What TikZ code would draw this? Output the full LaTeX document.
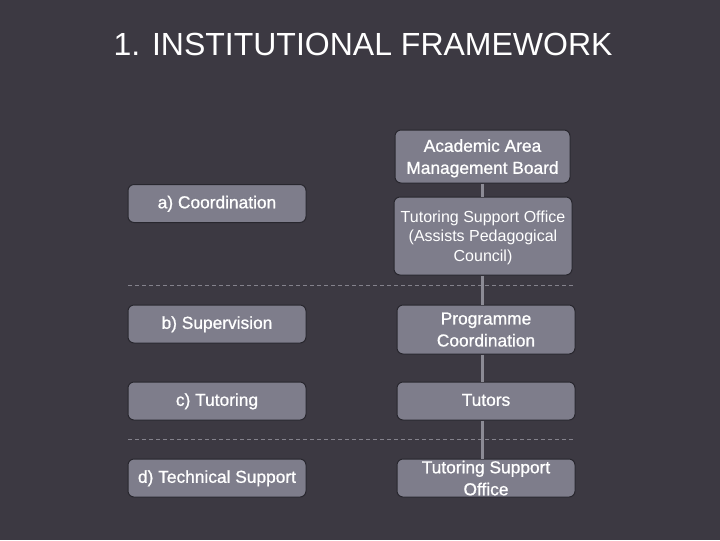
\documentclass[tikz,border=0pt]{standalone}
\usepackage{fontspec}
\setmainfont{Liberation Sans}
\newfontfamily\heavyfont[FakeBold=0.9]{Liberation Sans}

\definecolor{slide}{RGB}{60,57,66}
\definecolor{boxfill}{RGB}{126,125,139}
\definecolor{boxline}{RGB}{40,39,46}
\definecolor{linkgray}{RGB}{140,139,149}
\definecolor{sepgray}{RGB}{132,130,140}

\tikzset{every picture/.style={line width=0.75pt}}
\tikzset{
  boxnode/.style={draw=boxline, fill=boxfill, rounded corners=4.5pt, text=white,
    align=center, minimum width=133.5pt, minimum height=28.5pt, inner sep=2pt,
    text depth=0pt, font=\heavyfont\fontsize{13}{16.5}\selectfont},
  oneline/.style={boxnode, text height=0.72em},
  smallbox/.style={boxnode, font=\fontsize{12}{14.6}\selectfont},
  link/.style={draw=linkgray, line width=2.3pt},
  sepline/.style={draw=sepgray, line width=0.5pt, dash pattern=on 3pt off 2.25pt}
}

\begin{document}
\begin{tikzpicture}[x=0.75pt,y=0.75pt,yscale=-1,xscale=1]
	\useasboundingbox (0,0) rectangle (720,540);
	%Background
	\fill[slide] (0,0) rectangle (720,540);

	%Title
	\node[text=white, font=\fontsize{24}{28}\selectfont] (title) at (363,44) {1. INSTITUTIONAL FRAMEWORK};

	%Separators
	\draw[sepline] (128,285) -- (575,285);
	\draw[sepline] (128,439) -- (573,439);

	%Left column
	\node[oneline] (coord) at (217,203.5) {a) Coordination};
	\node[oneline] (super) at (217,324) {b) Supervision};
	\node[oneline] (tutor) at (217,401) {c) Tutoring};
	\node[oneline] (tech) at (217,478) {d) Technical Support};

	%Right column
	\node[boxnode, minimum width=131.25pt, minimum height=39.75pt] (board) at (482.5,156.5) {Academic Area\\Management Board};
	\node[smallbox, minimum height=58.5pt] (tsoped) at (483,236) {Tutoring Support Office\\(Assists Pedagogical\\Council)};
	\node[boxnode, minimum height=36.75pt] (prog) at (486,329.5) {Programme\\Coordination};
	\node[oneline] (tutors) at (486,401) {Tutors};
	\node[boxnode, inner ysep=0pt] (tso) at (486,478) {Tutoring Support\\Office};

	%Straight Lines
	\draw[link] (board.south) -- (board.south |- tsoped.north);
	\draw[link] (board.south |- tsoped.south) -- (board.south |- prog.north);
	\draw[link] (board.south |- prog.south) -- (board.south |- tutors.north);
	\draw[link] (board.south |- tutors.south) -- (board.south |- tso.north);

\end{tikzpicture}
\end{document}
